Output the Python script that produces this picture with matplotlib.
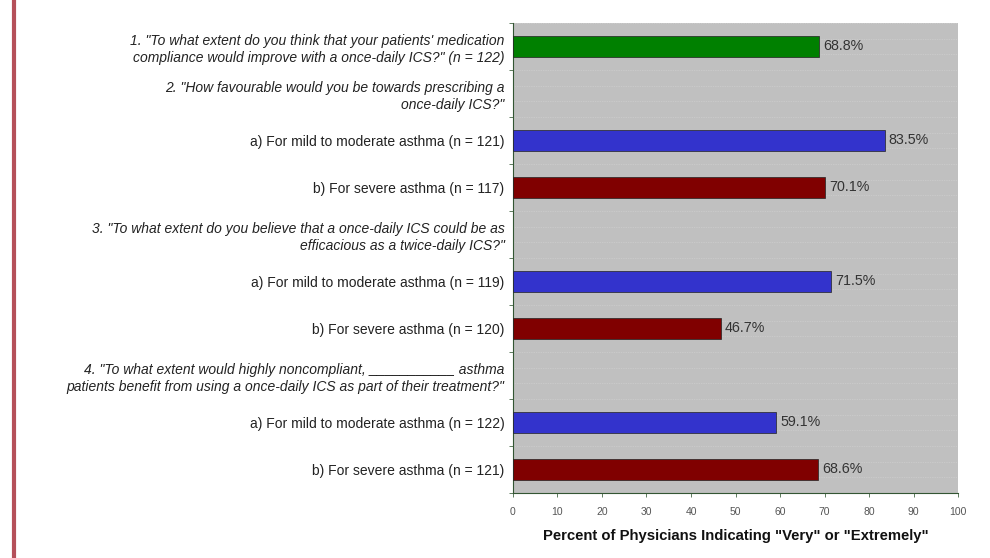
import matplotlib.pyplot as plt
from matplotlib.lines import Line2D

plt.rcParams['font.family'] = ['Liberation Sans', 'DejaVu Sans']

# rows top to bottom; None = header row without bar
labels = [
    '1. "To what extent do you think that your patients\' medication\ncompliance would improve with a once-daily ICS?" (n = 122)',
    '2. "How favourable would you be towards prescribing a\nonce-daily ICS?"',
    'a) For mild to moderate asthma (n = 121)',
    'b) For severe asthma (n = 117)',
    '3. "To what extent do you believe that a once-daily ICS could be as\nefficacious as a twice-daily ICS?"',
    'a) For mild to moderate asthma (n = 119)',
    'b) For severe asthma (n = 120)',
    '4. "To what extent would highly noncompliant, ___________ asthma\npatients benefit from using a once-daily ICS as part of their treatment?"',
    'a) For mild to moderate asthma (n = 122)',
    'b) For severe asthma (n = 121)',
]
italic_rows = [0, 1, 4, 7]
values = [68.8, None, 83.5, 70.1, None, 71.5, 46.7, None, 59.1, 68.6]
colors = ['#008000', None, '#3333cc', '#800000', None, '#3333cc', '#800000', None, '#3333cc', '#800000']

fig = plt.figure(figsize=(9.9, 5.58), dpi=100)
ax = fig.add_axes([0.518, 0.1165, 0.45, 0.8423])
ax.set_facecolor('#c0c0c0')

for i, (v, c) in enumerate(zip(values, colors)):
    if v is None:
        continue
    ax.barh(i, v, height=0.43, color=c, edgecolor='#222222', linewidth=0.5, zorder=3)
    ax.text(v + 0.9, i, f'{v}%', va='center', ha='left', fontsize=10.3, color='#333333', zorder=4)

n = len(labels)
ax.set_ylim(n - 0.5, -0.5)
ax.set_xlim(0, 100)

# faint dotted texture lines
for k in range(n * 3 + 1):
    ax.axhline(-0.5 + k / 3, color='#d4d4d4', linewidth=0.5, linestyle=(0, (1, 1.5)), zorder=1)

ax.set_yticks(range(n))
ax.set_yticklabels(labels, fontsize=10, color='#222222', linespacing=1.3)
for i, t in enumerate(ax.get_yticklabels()):
    if i in italic_rows:
        t.set_style('italic')
ax.tick_params(axis='y', which='major', length=0, pad=6)
ax.set_yticks([k - 0.5 for k in range(n + 1)], minor=True)
ax.tick_params(axis='y', which='minor', length=3, color='#446644', width=0.6)

ax.set_xticks(range(0, 101, 10))
ax.tick_params(axis='x', labelsize=7.5, labelcolor='#555555', length=3, color='#446644', width=0.6, pad=7)

for side in ['top', 'right']:
    ax.spines[side].set_visible(False)
for side in ['left', 'bottom']:
    ax.spines[side].set_color('#335533')
    ax.spines[side].set_linewidth(0.8)
    ax.spines[side].set_linestyle((0, (1, 1)))

ax.set_xlabel('Percent of Physicians Indicating "Very" or "Extremely"', fontsize=10.7,
              fontweight='bold', color='#111111', labelpad=9)

fig.add_artist(Line2D([0.0141, 0.0141], [0, 1], color='#b5505a', linewidth=3))

fig.savefig('out.png', dpi=100)
